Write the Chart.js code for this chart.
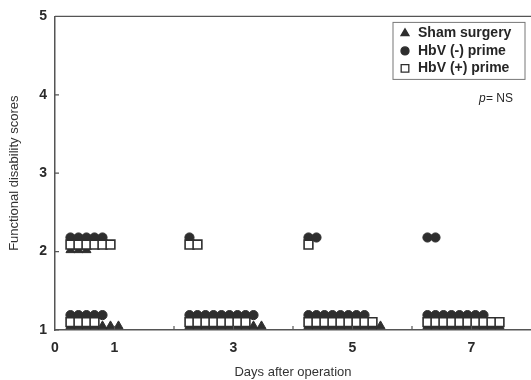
<!DOCTYPE html>
<html>
<head>
<meta charset="utf-8">
<script src="https://cdn.jsdelivr.net/npm/chart.js@4.4.1/dist/chart.umd.min.js"></script>
<style>
  html, body { margin: 0; padding: 0; background: #fff; }
</style>
</head>
<body>
<canvas id="myChart" width="531" height="380"></canvas>
<script>
// Days on the x axis
const days = [1, 3, 5, 7];
const xTickLabels = [0, 1, 3, 5, 7];
const yTickLabels = [1, 2, 3, 4, 5];

// number of animals at score 2 and score 1, per day
const shamAt2 = [3, 0, 0, 0];
const shamAt1 = [7, 10, 10, 10];
const negAt2 = [5, 1, 2, 2];
const negAt1 = [5, 9, 8, 8];
const posAt2 = [6, 2, 1, 0];
const posAt1 = [4, 8, 9, 10];

// plotted score levels (the figure nudges each group a little)
const shamLevels = [2.02, 1.05];
const negLevels = [2.18, 1.19];
const posLevels = [2.09, 1.1];

const INK = '#2e2e2e';
const FONT = '"Liberation Sans", Arial, sans-serif';

// lay the animals of one day side by side, like the dot plot
function dotRow(counts, level) {
    const pts = [];
    counts.forEach((n, d) => {
        for (let i = 0; i < n; i++) {
            pts.push({ x: days[d] - 0.74 + i * 0.1345, y: level });
        }
    });
    return pts;
}

function groupPoints(at2, at1, levels) {
    return dotRow(at2, levels[0]).concat(dotRow(at1, levels[1]));
}

const legendItems = [
    { text: 'Sham surgery', pointStyle: 'triangle', radius: 4.6, fill: INK },
    { text: 'HbV (-) prime', pointStyle: 'circle', radius: 4.0, fill: INK },
    { text: 'HbV (+) prime', pointStyle: 'rect', radius: 5.4, fill: '#fff' }
];

// inward ticks, top frame line, legend box and p value
const decorPlugin = {
    id: 'decor',
    afterDraw(chart) {
        const ctx = chart.ctx;
        const area = chart.chartArea;
        const xs = chart.scales.x;
        const ys = chart.scales.y;
        ctx.save();
        ctx.strokeStyle = '#555';
        ctx.lineWidth = 1.2;
        ctx.beginPath();
        ctx.moveTo(area.left, area.top);
        ctx.lineTo(area.right, area.top);
        yTickLabels.forEach(v => {
            const py = ys.getPixelForValue(v);
            ctx.moveTo(area.left, py);
            ctx.lineTo(area.left + 4, py);
        });
        for (let v = 1; v < 8; v++) {
            const px = xs.getPixelForValue(v);
            ctx.moveTo(px, area.bottom);
            ctx.lineTo(px, area.bottom - 4);
        }
        ctx.stroke();

        // legend
        const bx = area.right - 138, by = area.top + 6, bw = 132, bh = 57;
        ctx.strokeStyle = '#777';
        ctx.lineWidth = 1;
        ctx.strokeRect(bx, by, bw, bh);
        ctx.font = 'bold 14px ' + FONT;
        ctx.textBaseline = 'middle';
        legendItems.forEach((it, i) => {
            const cy = by + 11 + i * 17.5;
            ctx.fillStyle = it.fill;
            ctx.strokeStyle = INK;
            ctx.lineWidth = 1.3;
            Chart.helpers.drawPoint(ctx, { pointStyle: it.pointStyle, radius: it.radius, rotation: 0, borderWidth: 1.3 }, bx + 12, cy);
            ctx.fillStyle = '#262626';
            ctx.fillText(it.text, bx + 25, cy);
        });

        // p value
        ctx.fillStyle = '#262626';
        ctx.font = 'italic 12px ' + FONT;
        const px = area.right - 52, py = area.top + 82;
        ctx.fillText('p', px, py);
        ctx.font = '12px ' + FONT;
        ctx.fillText('= NS', px + 7, py);
        ctx.restore();
    }
};

const ctx = document.getElementById('myChart').getContext('2d');
const myChart = new Chart(ctx, {
    type: 'scatter',
    data: {
        datasets: [
            {
                label: 'HbV (+) prime',
                data: groupPoints(posAt2, posAt1, posLevels),
                pointStyle: 'rect',
                pointRadius: 6.2,
                backgroundColor: '#fff',
                borderColor: INK,
                borderWidth: 1.6,
                order: 0
            },
            {
                label: 'Sham surgery',
                data: groupPoints(shamAt2, shamAt1, shamLevels),
                pointStyle: 'triangle',
                pointRadius: 5.2,
                backgroundColor: INK,
                borderColor: INK,
                borderWidth: 1,
                order: 1
            },
            {
                label: 'HbV (-) prime',
                data: groupPoints(negAt2, negAt1, negLevels),
                pointStyle: 'circle',
                pointRadius: 4.6,
                backgroundColor: INK,
                borderColor: INK,
                borderWidth: 1,
                order: 2
            }
        ]
    },
    options: {
        responsive: false,
        animation: false,
        clip: false,
        layout: { autoPadding: false, padding: { top: 15, right: 0, left: 0, bottom: 0 } },
        plugins: {
            legend: { display: false },
            tooltip: { enabled: false }
        },
        scales: {
            x: {
                type: 'linear',
                min: 0,
                max: 8,
                afterFit: s => {
                    s.height = 50;
                    s.paddingLeft = 0;
                    s.paddingRight = 0;
                },
                border: { display: true, color: '#555', width: 1.5 },
                grid: { drawOnChartArea: false, drawTicks: true, tickLength: 10, tickColor: 'rgba(0,0,0,0)' },
                ticks: {
                    stepSize: 1,
                    autoSkip: false,
                    maxRotation: 0,
                    padding: 0,
                    color: '#2a2a2a',
                    font: { family: FONT, size: 14, weight: 'bold' },
                    callback: v => xTickLabels.includes(v) ? String(v) : ''
                },
                title: {
                    display: true,
                    text: 'Days after operation',
                    color: '#333',
                    font: { family: FONT, size: 13 },
                    padding: { top: 0, bottom: 0 }
                }
            },
            y: {
                min: 1,
                max: 5,
                afterFit: s => { s.width = 55; },
                border: { display: true, color: '#555', width: 1.5 },
                grid: { drawOnChartArea: false, drawTicks: false },
                ticks: {
                    stepSize: 1,
                    padding: 8,
                    color: '#2a2a2a',
                    font: { family: FONT, size: 14, weight: 'bold' },
                    callback: v => yTickLabels.includes(v) ? String(v) : ''
                },
                title: {
                    display: true,
                    text: 'Functional disability scores',
                    color: '#333',
                    font: { family: FONT, size: 13 },
                    padding: { top: 7, bottom: 0 }
                }
            }
        }
    },
    plugins: [decorPlugin]
});
</script>
</body>
</html>
